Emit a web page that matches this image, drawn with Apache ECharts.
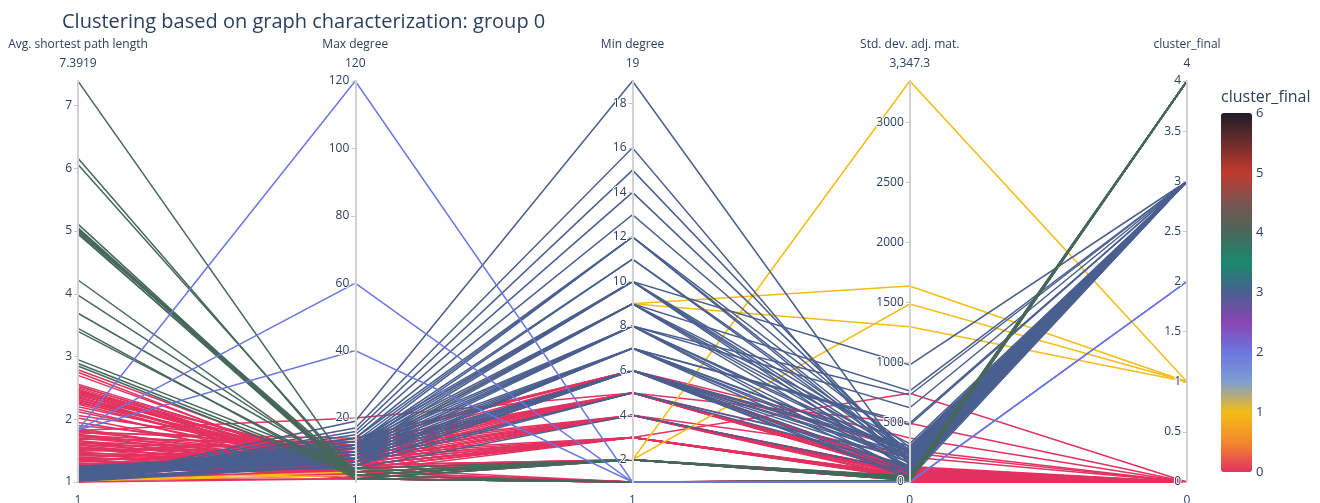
<!DOCTYPE html>
<html><head><meta charset="utf-8">
<script src="https://cdn.jsdelivr.net/npm/echarts@6/dist/echarts.min.js"></script>
<style>html,body{margin:0;padding:0;background:#fff}#c{width:1320px;height:503px}</style>
</head><body><div id="c"></div>
<script>
// ---- data ----
const dimNames = ['Avg. shortest path length', 'Max degree', 'Min degree', 'Std. dev. adj. mat.', 'cluster_final'];
const topLabels = ['7.3919', '120', '19', '3,347.3', '4'];
const bottomLabels = ['1', '1', '1', '0', '0'];
const axisMin = [1, 1, 1, 0, 0];
const axisMax = [7.3919, 120, 19, 3347.3, 4];
const tickValues = [
  [1, 2, 3, 4, 5, 6, 7],
  [20, 40, 60, 80, 100, 120],
  [2, 4, 6, 8, 10, 12, 14, 16, 18],
  [0, 500, 1000, 1500, 2000, 2500, 3000],
  [0, 0.5, 1, 1.5, 2, 2.5, 3, 3.5, 4]
];
const colorbarTicks = [0, 1, 2, 3, 4, 5, 6];

// rows: [avg path, max degree, min degree, std dev]
const cluster0 = [
  [2.79,4,2,30],[2.75,2,1,12],[2.70,3,2,25],[2.56,5,3,60],[2.54,3,1,8],[2.52,6,3,45],
  [2.50,4,2,20],[2.48,2,1,5],[2.46,7,4,80],[2.44,3,2,18],[2.42,5,3,40],[2.40,4,2,28],
  [2.38,6,3,55],[2.36,3,1,10],[2.34,8,5,100],[2.32,4,2,22],[2.30,5,2,35],[2.28,3,1,6],
  [2.26,7,4,70],[2.24,4,3,32],[2.20,6,2,48],[2.16,3,2,15],[2.12,5,3,38],[2.06,9,4,90],
  [2.02,4,2,24],[1.95,6,3,42],[1.90,10,5,110],[1.85,5,2,30],[1.82,20,5,490],[1.81,12,4,242],
  [1.80,8,3,60],[1.78,14,6,267],[1.76,6,2,35],[1.74,11,5,209],[1.72,9,4,85],[1.70,7,3,740],
  [1.68,13,6,367],[1.66,5,2,25],[1.64,10,4,95],[1.62,8,5,130],[1.60,6,3,50],[1.58,12,5,75],
  [1.56,4,2,18],[1.54,9,3,65],[1.52,7,4,40],[1.50,11,6,100],[1.48,5,2,22],[1.46,8,3,55],
  [1.44,6,4,30],[1.42,10,5,80],[1.40,4,1,12],[1.38,7,3,45],[1.36,9,4,70],[1.34,5,2,20],
  [1.32,12,5,90],[1.30,6,3,38],[1.28,3,1,8],[1.26,8,4,60],[1.24,5,2,25],[1.22,10,3,50],
  [1.20,4,2,15],[1.18,7,5,85],[1.16,6,3,35],[1.14,3,1,5],[1.12,9,4,65],[1.10,5,2,28],
  [1.08,8,3,42],[1.06,4,1,10],[1.05,11,5,75],[1.04,6,2,30],[1.03,2,1,3],[1.02,7,4,55],
  [1.01,3,1,6],[1.00,5,2,20],[1.00,2,1,0],[1.15,13,6,95],[1.25,14,6,120],[1.35,2,1,4],
  [1.45,3,1,9],[1.55,2,1,2],[1.65,3,2,14],[1.75,4,1,7],[2.35,2,1,3],[2.45,5,1,11],
  [1.09,12,5,100],[1.19,10,6,115],[1.29,9,5,88],[1.39,11,4,72],[1.49,13,5,105],[1.59,3,1,4]
];
const cluster3 = [
  [1.02,19,19,140],[1.05,17,16,60],[1.03,16,15,180],[1.08,15,14,220],[1.04,14,13,250],
  [1.10,14,12,290],[1.06,13,12,200],[1.12,12,12,160],[1.01,12,11,230],[1.15,13,10,977],
  [1.07,11,10,270],[1.18,12,10,150],[1.09,10,10,90],[1.02,12,9,760],[1.11,11,9,240],
  [1.14,10,9,180],[1.20,9,9,110],[1.04,11,8,726],[1.13,10,8,620],[1.16,9,8,210],
  [1.22,8,8,130],[1.06,12,8,70],[1.08,10,7,492],[1.17,9,7,476],[1.24,8,7,260],
  [1.03,7,7,190],[1.19,11,7,100],[1.05,9,6,300],[1.10,8,6,230],[1.21,7,6,170],
  [1.01,6,6,120],[1.12,10,6,80],[1.23,6,6,50],[1.14,7,5,200],[1.07,6,5,140],
  [1.18,5,4,90],[1.09,8,7,250],[1.11,9,6,210],[1.15,7,7,160],[1.02,8,6,280],
  [1.25,10,9,320],[1.13,11,11,190],[1.06,9,8,240],[1.20,12,10,200],[1.04,6,6,30]
];
const cluster4 = [
  [7.39,3,2,30],[6.16,2,2,20],[6.06,3,2,25],[5.11,2,1,10],[5.05,3,2,35],[5.03,2,2,15],
  [5.01,3,2,40],[4.99,4,2,22],[4.97,2,1,5],[4.95,3,2,28],[4.22,2,2,18],[3.98,3,2,32],
  [3.69,4,2,45],[3.45,2,1,8],[3.40,3,2,26],[2.95,5,2,50],[2.89,4,2,38],[2.85,3,1,12]
];
const cluster1 = [
  [1.02,3,2,3347.3],[1.02,4,2,1486],[1.03,10,9,1636],[1.03,11,9,1296]
];
const cluster2 = [
  [1.83,120,1,0],[1.83,60,1,0],[1.83,40,1,0]
];
const clusterColors = ['#e2325f','#f28a2c','#f5bc14','#7f9fd0','#6b76e0','#8a45b5','#4a5f8f',
                       '#1b8a6e','#46685a','#7b5450','#c23a2e','#6e2c2c','#1f1d28'];

// ---- build ----
function tag(rows, c) { return rows.map(r => r.concat([c])); }
const seriesData = [].concat(tag(cluster0, 0), tag(cluster1, 1), tag(cluster3, 3), tag(cluster4, 4), tag(cluster2, 2));

const W = 1320, H = 503;
const gridLeft = 78, gridRight = 133, gridTop = 81, gridBottom = 21;
const step = (W - gridLeft - gridRight) / (dimNames.length - 1);
const font = "'Open Sans', 'DejaVu Sans', sans-serif";
const txtColor = '#2a3f5f';

const parallelAxis = dimNames.map((n, i) => ({
  dim: i,
  name: '{a|' + n + '}\n{b|' + topLabels[i] + '}',
  nameLocation: 'end',
  nameGap: 8,
  nameTextStyle: {
    rich: {
      a: { fontSize: 12, color: txtColor, fontFamily: font, lineHeight: 20 },
      b: { fontSize: 12, color: txtColor, fontFamily: font, lineHeight: 18 }
    }
  },
  min: axisMin[i],
  max: axisMax[i],
  axisLine: { lineStyle: { color: '#d2d2d2', width: 2 } },
  axisTick: { show: true, length: -4, lineStyle: { color: '#c8c8c8' }, customValues: tickValues[i] },
  axisLabel: {
    customValues: tickValues[i],
    align: 'right',
    color: txtColor, fontSize: 12, fontFamily: font, margin: -6,
    textBorderColor: '#fff', textBorderWidth: 2,
    formatter: v => String(v)
  },
  splitLine: { show: false }
}));

const graphics = [];
bottomLabels.forEach((t, i) => {
  graphics.push({ type: 'text', x: gridLeft + i * step, y: H - 2,
    style: { text: t, fill: txtColor, font: '12px ' + font, textAlign: 'center', textVerticalAlign: 'middle' } });
});
const cbTop = 113, cbH = 359, cbLeft = 1221, cbW = 31;
colorbarTicks.forEach(v => {
  graphics.push({ type: 'text', x: cbLeft + cbW + 4, y: cbTop + cbH * (1 - v / 6),
    style: { text: String(v), fill: txtColor, font: '13px ' + font, textAlign: 'left', textVerticalAlign: 'middle' } });
});
graphics.push({ type: 'text', x: cbLeft, y: 97,
  style: { text: 'cluster_final', fill: txtColor, font: '16px ' + font, textAlign: 'left', textVerticalAlign: 'middle' } });

const chart = echarts.init(document.getElementById('c'), null, { renderer: 'canvas' });
chart.setOption({
  animation: false,
  backgroundColor: '#fff',
  title: {
    text: 'Clustering based on graph characterization: group 0',
    left: 57, top: 7,
    textStyle: { fontSize: 20, fontWeight: 'normal', color: txtColor, fontFamily: font }
  },
  parallel: {
    left: gridLeft, right: gridRight, top: gridTop, bottom: gridBottom,
    layout: 'horizontal',
    parallelAxisDefault: { type: 'value' }
  },
  parallelAxis: parallelAxis,
  visualMap: {
    type: 'continuous',
    dimension: 4,
    min: 0, max: 6,
    calculable: false,
    show: true,
    left: cbLeft, top: cbTop,
    itemWidth: cbW, itemHeight: cbH,
    padding: 0,
    text: null,
    showLabel: false,
    inRange: { color: clusterColors }
  },
  graphic: graphics,
  series: [{
    type: 'parallel',
    smooth: false,
    lineStyle: { width: 1.5, opacity: 1 },
    data: seriesData
  }]
});
</script></body></html>
